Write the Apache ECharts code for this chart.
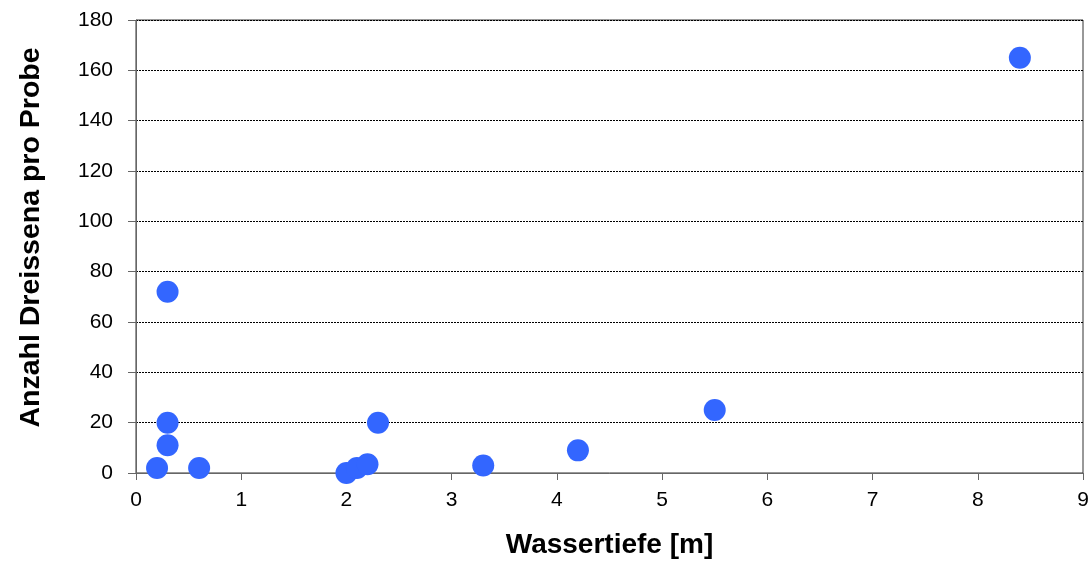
<!DOCTYPE html>
<html>
<head>
<meta charset="utf-8">
<script src="https://cdn.jsdelivr.net/npm/echarts@6/dist/echarts.min.js"></script>
<style>
  html, body { margin: 0; padding: 0; background: #fff; }
  #chart { width: 1090px; height: 563px; }
</style>
</head>
<body>
<div id="chart"></div>
<script>
// Wassertiefe [m]
var depth = [0.2, 0.3, 0.3, 0.3, 0.6, 2.0, 2.1, 2.2, 2.3, 3.3, 4.2, 5.5, 8.4]
// Anzahl Dreissena pro Probe
var count = [2, 72, 20, 11, 2, 0, 2, 3.5, 20, 3, 9, 25, 165]

var points = depth.map(function (d, i) { return [d, count[i]] })

var chart = echarts.init(document.getElementById('chart'))
var font = 'Liberation Sans, Arial, sans-serif'

chart.setOption({
  animation: false,
  grid: {
    left: 136,
    right: 7,
    top: 20,
    bottom: 90,
    outerBoundsMode: 'none',
    show: true,
    borderColor: '#333',
    borderWidth: 1
  },
  xAxis: {
    type: 'value',
    min: 0,
    max: 9,
    interval: 1,
    name: 'Wassertiefe [m]',
    nameLocation: 'middle',
    nameGap: 58,
    nameTextStyle: { fontFamily: font, fontSize: 28, fontWeight: 'bold', color: '#000' },
    axisLine: { lineStyle: { color: '#666', width: 1 } },
    axisTick: { show: true, length: 7, inside: false, lineStyle: { color: '#666' } },
    axisLabel: { fontFamily: font, fontSize: 21, color: '#000', margin: 17 },
    splitLine: { show: false }
  },
  yAxis: {
    type: 'value',
    min: 0,
    max: 180,
    interval: 20,
    name: 'Anzahl Dreissena pro Probe',
    nameLocation: 'middle',
    nameGap: 90,
    nameTextStyle: { fontFamily: font, fontSize: 28.5, fontWeight: 'bold', color: '#000', padding: [0, 0, 0, 18] },
    axisLine: { show: true, lineStyle: { color: '#666', width: 1 } },
    axisTick: { show: true, length: 8, inside: false, lineStyle: { color: '#666' } },
    axisLabel: { fontFamily: font, fontSize: 21, color: '#000', margin: 23 },
    splitLine: { show: true, lineStyle: { color: '#000', type: [2, 1], width: 1 } }
  },
  series: [{
    type: 'scatter',
    data: points,
    symbol: 'circle',
    symbolSize: 22,
    itemStyle: { color: '#3366FF', opacity: 1 }
  }]
})
</script>
</body>
</html>
